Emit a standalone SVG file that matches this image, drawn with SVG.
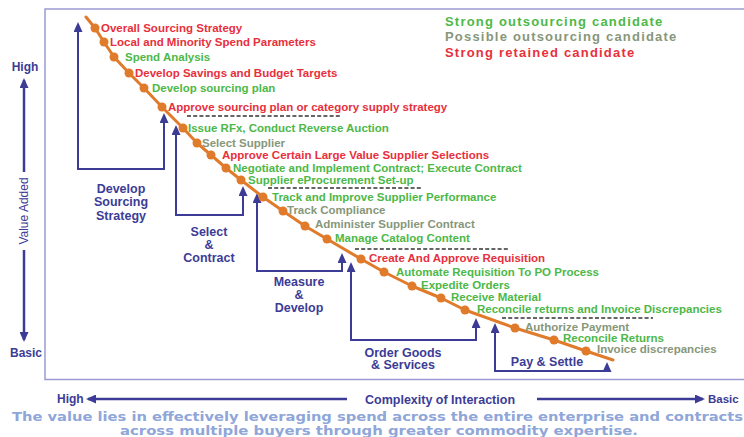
<svg xmlns="http://www.w3.org/2000/svg" width="744" height="437" viewBox="0 0 744 437">
  <style>
    .step { font-family: "Liberation Sans", Arial, sans-serif; font-size: 11.5px; font-weight: bold; }
    .red { fill: #e8303c; }
    .green { fill: #4db848; }
    .gray { fill: #87977a; }
    .legend { font-family: "Liberation Sans", Arial, sans-serif; font-size: 13px; font-weight: bold; letter-spacing: 1.2px; }
    .phase { font-family: "Liberation Sans", Arial, sans-serif; font-size: 12.5px; font-weight: bold; fill: #3c3c96; text-anchor: middle; }
    .axis { font-family: "Liberation Sans", Arial, sans-serif; font-size: 12px; font-weight: bold; fill: #3c3c96; }
    .bracket { fill: none; stroke: #3c3c96; stroke-width: 2; marker-start: url(#tip); marker-end: url(#tip); }
    .axisline { fill: none; stroke: #3c3c96; stroke-width: 2.5; marker-end: url(#tip); }
    .dash { stroke: #333; stroke-width: 1.4; stroke-dasharray: 4 2.2; }
    .dot { fill: #e07b2c; }
    .note { font-family: "DejaVu Sans", Verdana, sans-serif; font-size: 12px; font-weight: bold; fill: #8fa6d9; }
  </style>
  <defs>
    <marker id="tip" viewBox="0 0 10 9" markerUnits="userSpaceOnUse" markerWidth="10" markerHeight="9" refX="8" refY="4.5" orient="auto-start-reverse">
      <path d="M0,0 L10,4.5 L0,9 z" fill="#3c3c96"/>
    </marker>
  </defs>

  <rect width="744" height="437" fill="#ffffff"/>

  <!-- chart frame -->
  <path d="M746,9 H45 V379.5 H746" fill="none" stroke="#9a9ad2" stroke-width="1.5"/>

  <!-- legend -->
  <g id="legend" class="legend">
    <text x="445" y="25.5" class="green">Strong outsourcing candidate</text>
    <text x="445" y="41" class="gray">Possible outsourcing candidate</text>
    <text x="445" y="56.5" class="red">Strong retained candidate</text>
  </g>

  <!-- vertical axis: value added -->
  <g id="axis-value">
    <text x="25" y="71" class="axis" text-anchor="middle">High</text>
    <path class="axisline" d="M24,172 V80"/>
    <text transform="translate(28,211) rotate(-90)" text-anchor="middle" style="font-family: 'Liberation Sans', Arial, sans-serif; font-size: 12px; fill: #3c3c96;">Value Added</text>
    <path class="axisline" d="M24,250 V340"/>
    <text x="26" y="357" class="axis" text-anchor="middle">Basic</text>
  </g>

  <!-- horizontal axis: complexity of interaction -->
  <g id="axis-complexity">
    <text x="57" y="403" class="axis">High</text>
    <path class="axisline" d="M347,399 H88"/>
    <text x="365" y="403.5" class="axis" style="font-size:12.5px">Complexity of Interaction</text>
    <path class="axisline" d="M537,399 H703"/>
    <text x="708" y="403" class="axis" style="font-size:11.5px">Basic</text>
  </g>

  <!-- phase brackets -->
  <g id="connectors">
    <path class="bracket" d="M78,24 V169 H164 V115"/>
    <path class="bracket" d="M176,127 V215 H243 V188"/>
    <path class="bracket" d="M257,195 V271 H342 V255"/>
    <path class="bracket" d="M351,264 V340 H476 V320"/>
    <path class="bracket" d="M495,325 V371 H607 V364"/>
  </g>

  <g id="phase-develop-sourcing" class="phase">
    <text x="121" y="192.5">Develop</text>
    <text x="121" y="206">Sourcing</text>
    <text x="121" y="219.5">Strategy</text>
  </g>
  <g id="phase-select-contract" class="phase">
    <text x="209" y="235.5">Select</text>
    <text x="209" y="248.5">&amp;</text>
    <text x="209" y="261.5">Contract</text>
  </g>
  <g id="phase-measure-develop" class="phase">
    <text x="299" y="285.5">Measure</text>
    <text x="299" y="298.5">&amp;</text>
    <text x="299" y="311.5">Develop</text>
  </g>
  <g id="phase-order-goods" class="phase">
    <text x="403" y="356.5">Order Goods</text>
    <text x="403" y="369">&amp; Services</text>
  </g>
  <g id="phase-pay-settle" class="phase">
    <text x="547" y="365.5">Pay &amp; Settle</text>
  </g>

  <!-- process curve -->
  <g id="process-curve">
    <polyline fill="none" stroke="#e07b2c" stroke-width="3" stroke-linejoin="round" stroke-linecap="round"
      points="86,17 95,28 104,42 114,57 129,73 144,88 162,107 183,128 197,143 211,155 226,168 241,180 263,197 283,211 305,226 327,239 361,259 384,272 412,286 441,298 465,310 515,328 554,340 586,351 613,360"/>
  </g>

  <!-- phase separators -->
  <g id="separators">
    <line class="dash" x1="187" y1="116" x2="340" y2="116"/>
    <line class="dash" x1="268" y1="188" x2="422" y2="188"/>
    <line class="dash" x1="355" y1="249" x2="510" y2="249"/>
    <line class="dash" x1="502" y1="318" x2="653" y2="318"/>
  </g>

  <!-- process steps -->
  <g id="step-01"><circle class="dot" cx="95" cy="28" r="4.5"/><text class="step red" x="101" y="31.5">Overall Sourcing Strategy</text></g>
  <g id="step-02"><circle class="dot" cx="104" cy="42" r="4.5"/><text class="step red" x="110" y="46">Local and Minority Spend Parameters</text></g>
  <g id="step-03"><circle class="dot" cx="114" cy="57" r="4.5"/><text class="step green" x="125" y="61">Spend Analysis</text></g>
  <g id="step-04"><circle class="dot" cx="129" cy="73" r="4.5"/><text class="step red" x="135" y="77">Develop Savings and Budget Targets</text></g>
  <g id="step-05"><circle class="dot" cx="144" cy="88" r="4.5"/><text class="step green" x="152" y="92">Develop sourcing plan</text></g>
  <g id="step-06"><circle class="dot" cx="162" cy="107" r="4.5"/><text class="step red" x="168" y="111">Approve sourcing plan or category supply strategy</text></g>
  <g id="step-07"><circle class="dot" cx="183" cy="128" r="4.5"/><text class="step green" x="188" y="132">Issue RFx, Conduct Reverse Auction</text></g>
  <g id="step-08"><circle class="dot" cx="197" cy="143" r="4.5"/><text class="step gray" x="202" y="147">Select Supplier</text></g>
  <g id="step-09"><circle class="dot" cx="211" cy="155" r="4.5"/><text class="step red" x="222" y="159">Approve Certain Large Value Supplier Selections</text></g>
  <g id="step-10"><circle class="dot" cx="226" cy="168" r="4.5"/><text class="step green" x="233" y="172">Negotiate and Implement Contract; Execute Contract</text></g>
  <g id="step-11"><circle class="dot" cx="241" cy="180" r="4.5"/><text class="step green" x="248" y="184">Supplier eProcurement Set-up</text></g>
  <g id="step-12"><circle class="dot" cx="263" cy="197" r="4.5"/><text class="step green" x="272" y="201">Track and Improve Supplier Performance</text></g>
  <g id="step-13"><circle class="dot" cx="283" cy="211" r="4.5"/><text class="step gray" x="287" y="214">Track Compliance</text></g>
  <g id="step-14"><circle class="dot" cx="305" cy="226" r="4.5"/><text class="step gray" x="315" y="228">Administer Supplier Contract</text></g>
  <g id="step-15"><circle class="dot" cx="327" cy="239" r="4.5"/><text class="step green" x="335" y="242">Manage Catalog Content</text></g>
  <g id="step-16"><circle class="dot" cx="361" cy="259" r="4.5"/><text class="step red" x="369" y="262">Create And Approve Requisition</text></g>
  <g id="step-17"><circle class="dot" cx="384" cy="272" r="4.5"/><text class="step green" x="396" y="276">Automate Requisition To PO Process</text></g>
  <g id="step-18"><circle class="dot" cx="412" cy="286" r="4.5"/><text class="step green" x="421" y="289">Expedite Orders</text></g>
  <g id="step-19"><circle class="dot" cx="441" cy="298" r="4.5"/><text class="step green" x="451" y="301">Receive Material</text></g>
  <g id="step-20"><circle class="dot" cx="465" cy="310" r="4.5"/><text class="step green" x="477" y="313">Reconcile returns and Invoice Discrepancies</text></g>
  <g id="step-21"><circle class="dot" cx="515" cy="328" r="4.5"/><text class="step gray" x="525" y="331">Authorize Payment</text></g>
  <g id="step-22"><circle class="dot" cx="554" cy="340" r="4.5"/><text class="step green" x="563" y="342">Reconcile Returns</text></g>
  <g id="step-23"><circle class="dot" cx="586" cy="351" r="4.5"/><text class="step gray" x="597" y="353">Invoice discrepancies</text></g>

  <!-- closing statement -->
  <g id="statement" class="note">
    <text x="12" y="420.5" textLength="731" lengthAdjust="spacingAndGlyphs">The value lies in effectively leveraging spend across the entire enterprise and contracts</text>
    <text x="120" y="434.5" textLength="518" lengthAdjust="spacingAndGlyphs">across multiple buyers through greater commodity expertise.</text>
  </g>
</svg>
